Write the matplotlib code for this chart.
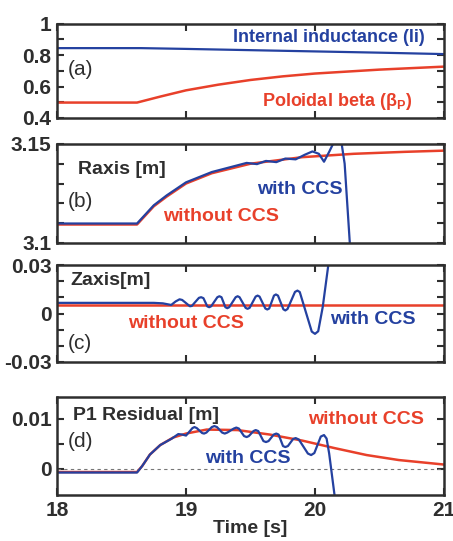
import matplotlib
matplotlib.use('Agg')
import matplotlib.pyplot as plt

# ---- data ----

# (a) internal inductance and poloidal beta
t_li = [18.0, 18.65, 19.0, 19.5, 20.0, 20.5, 21.0]
li = [0.845, 0.845, 0.840, 0.832, 0.824, 0.816, 0.807]

t_bp = [18.0, 18.62, 18.8, 19.0, 19.25, 19.5, 19.75, 20.0, 20.5, 21.0]
bp = [0.498, 0.498, 0.536, 0.576, 0.612, 0.642, 0.665, 0.683, 0.708, 0.727]

# (b) Raxis
t_r_nocc = [18.0, 18.62, 18.75, 18.85, 19.0, 19.2, 19.5, 19.9, 20.3, 20.7, 21.0]
r_nocc = [3.1093, 3.1093, 3.1185, 3.1234, 3.1300, 3.1352, 3.1400, 3.1433, 3.1450, 3.1460, 3.1466]

t_r_cc = [18.0, 18.62, 18.75, 18.85, 19.0, 19.2, 19.4, 19.47, 19.55, 19.62, 19.70, 19.77,
          19.85, 19.92, 19.98, 20.03, 20.07, 20.11, 20.14, 20.17, 20.2, 20.23, 20.26, 20.28]
r_cc = [3.1098, 3.1098, 3.1190, 3.1240, 3.1306, 3.1358, 3.1392, 3.1404, 3.1398, 3.1414, 3.1408, 3.1426,
        3.1422, 3.1445, 3.1462, 3.1450, 3.1410, 3.1460, 3.1500, 3.1540, 3.1530, 3.1400, 3.1100, 3.0900]

# (c) Zaxis
t_z_nocc = [18.0, 21.0]
z_nocc = [0.0052, 0.0052]

t_z_cc = [18.00, 18.75, 18.82, 18.885, 18.92, 18.95, 18.97, 19.03, 19.045, 19.10, 19.117, 19.135,
          19.165, 19.18, 19.195, 19.243, 19.259, 19.275, 19.305, 19.32, 19.335, 19.385, 19.40,
          19.415, 19.462, 19.477, 19.493, 19.54, 19.555, 19.57, 19.615, 19.63, 19.645, 19.682,
          19.697, 19.713, 19.755, 19.77, 19.787, 19.845, 19.864, 19.882, 19.975, 20.0, 20.025,
          20.06, 20.09, 20.12, 20.15]
z_cc = [0.0066, 0.0066, 0.0063, 0.0053, 0.0075, 0.0088, 0.0084, 0.0045, 0.0047, 0.0097, 0.0101, 0.0095,
        0.0044, 0.0039, 0.0045, 0.0101, 0.0107, 0.0101, 0.0039, 0.0033, 0.0039, 0.0101, 0.0107,
        0.0101, 0.0035, 0.0029, 0.0035, 0.0105, 0.0111, 0.0105, 0.0031, 0.0025, 0.0031, 0.0111,
        0.0118, 0.0111, 0.0026, 0.0019, 0.0028, 0.0134, 0.0142, 0.0133, -0.0112, -0.0126, -0.0110,
        0.0040, 0.0220, 0.0400, 0.0560]

# (d) P1 residual
t_p_nocc = [18.0, 18.62, 18.66, 18.72, 18.8, 18.9, 19.0, 19.16, 19.4, 19.65, 19.9,
            20.15, 20.4, 20.65, 21.0]
p_nocc = [-0.0007, -0.0007, 0.0005, 0.0028, 0.0047, 0.0062, 0.0070, 0.0078, 0.0077, 0.0068,
          0.0056, 0.0041, 0.0027, 0.0017, 0.0008]

t_p_cc = [18.0, 18.62, 18.66, 18.72, 18.8, 18.89, 18.94, 18.97, 19.0, 19.05, 19.066, 19.083,
          19.125, 19.14, 19.158, 19.20, 19.22, 19.24, 19.28, 19.30, 19.32, 19.37, 19.39, 19.41,
          19.45, 19.47, 19.487, 19.523, 19.54, 19.56, 19.60, 19.62, 19.64, 19.68, 19.70, 19.718,
          19.752, 19.77, 19.79, 19.83, 19.85, 19.875, 19.945, 19.97, 19.995, 20.045, 20.07, 20.09,
          20.11, 20.13, 20.155]
p_cc = [-0.0008, -0.0008, 0.0005, 0.0028, 0.0047, 0.0060, 0.0069, 0.0068, 0.0066, 0.0081, 0.0083, 0.0081,
        0.0071, 0.0070, 0.0072, 0.0083, 0.0085, 0.0083, 0.0072, 0.0070, 0.0072, 0.0080, 0.0082, 0.0080,
        0.0065, 0.0063, 0.0065, 0.0075, 0.0077, 0.0075, 0.0055, 0.0053, 0.0055, 0.0068, 0.0070, 0.0068,
        0.0045, 0.0043, 0.0045, 0.0059, 0.0061, 0.0058, 0.0030, 0.0027, 0.0031, 0.0064, 0.0067, 0.0060,
        0.0030, -0.0010, -0.0060]

x_ticks = [18, 19, 20, 21]

BLUE = '#2441a0'
RED = '#e8402a'
DARK = '#2e2e2e'

plt.rcParams['font.family'] = ['Liberation Sans', 'DejaVu Sans']
plt.rcParams['font.weight'] = 'bold'
plt.rcParams['mathtext.fontset'] = 'custom'
plt.rcParams['mathtext.rm'] = 'Liberation Sans:bold'
plt.rcParams['mathtext.bf'] = 'Liberation Sans:bold'
plt.rcParams['mathtext.it'] = 'Liberation Sans:bold'


def style_axis(ax, ylim, yticks, ylabels, show_x=False):
    ax.set_xlim(18, 21)
    ax.set_ylim(*ylim)
    ax.set_xticks(x_ticks)
    if show_x:
        ax.set_xticklabels([str(t) for t in x_ticks])
    else:
        ax.set_xticklabels([])
    ax.set_yticks(yticks)
    ax.set_yticklabels(ylabels)
    ax.tick_params(direction='in', length=5, width=1.5, color=DARK, labelsize=15,
                   labelcolor=DARK, top=True, right=True, pad=4)
    for s in ax.spines.values():
        s.set_linewidth(1.8)
        s.set_color(DARK)


fig = plt.figure(figsize=(4.53, 5.41), dpi=100)
left, width = 0.126, 0.854

# (a)
ax_a = fig.add_axes([left, 0.782, width, 0.174])
ax_a.plot(t_li, li, color=BLUE, lw=1.6)
ax_a.plot(t_bp, bp, color=RED, lw=1.8)
style_axis(ax_a, (0.4, 1.0), [0.4, 0.5, 0.6, 0.7, 0.8, 0.9, 1.0],
           ['0.4', '', '0.6', '', '0.8', '', '1'])
ax_a.text(0.951, 0.851, 'Internal inductance (li)', color=BLUE, fontsize=13,
          ha='right', va='center', transform=ax_a.transAxes)
ax_a.text(0.917, 0.173, 'Poloidal beta (\u03b2$_{\\mathbf{P}}$)', color=RED, fontsize=13,
          ha='right', va='center', transform=ax_a.transAxes)
ax_a.text(0.028, 0.51, '(a)', color=DARK, fontsize=15, fontweight='normal',
          ha='left', va='center', transform=ax_a.transAxes)

# (b)
ax_b = fig.add_axes([left, 0.551, width, 0.183])
ax_b.plot(t_r_nocc, r_nocc, color=RED, lw=1.8)
ax_b.plot(t_r_cc, r_cc, color=BLUE, lw=1.6)
style_axis(ax_b, (3.1, 3.15), [3.10, 3.11, 3.12, 3.13, 3.14, 3.15],
           ['3.1', '', '', '', '', '3.15'])
ax_b.text(0.054, 0.737, 'Raxis [m]', color=DARK, fontsize=14,
          ha='left', va='center', transform=ax_b.transAxes)
ax_b.text(0.028, 0.417, '(b)', color=DARK, fontsize=15, fontweight='normal',
          ha='left', va='center', transform=ax_b.transAxes)
ax_b.text(0.517, 0.535, 'with CCS', color=BLUE, fontsize=14,
          ha='left', va='center', transform=ax_b.transAxes)
ax_b.text(0.274, 0.266, 'without CCS', color=RED, fontsize=14,
          ha='left', va='center', transform=ax_b.transAxes)

# (c)
ax_c = fig.add_axes([left, 0.331, width, 0.179])
ax_c.plot(t_z_nocc, z_nocc, color=RED, lw=1.8)
ax_c.plot(t_z_cc, z_cc, color=BLUE, lw=1.6)
style_axis(ax_c, (-0.03, 0.03), [-0.03, -0.02, -0.01, 0.0, 0.01, 0.02, 0.03],
           ['-0.03', '', '', '0', '', '', '0.03'])
ax_c.text(0.034, 0.845, 'Zaxis[m]', color=DARK, fontsize=14,
          ha='left', va='center', transform=ax_c.transAxes)
ax_c.text(0.028, 0.193, '(c)', color=DARK, fontsize=15, fontweight='normal',
          ha='left', va='center', transform=ax_c.transAxes)
ax_c.text(0.183, 0.399, 'without CCS', color=RED, fontsize=14,
          ha='left', va='center', transform=ax_c.transAxes)
ax_c.text(0.705, 0.443, 'with CCS', color=BLUE, fontsize=14,
          ha='left', va='center', transform=ax_c.transAxes)

# (d)
ax_d = fig.add_axes([left, 0.085, width, 0.181])
ax_d.axhline(0, color='#777777', lw=0.8, ls=(0, (3, 3)))
ax_d.plot(t_p_nocc, p_nocc, color=RED, lw=1.8)
ax_d.plot(t_p_cc, p_cc, color=BLUE, lw=1.6)
style_axis(ax_d, (-0.0053, 0.0143), [0.0, 0.005, 0.01], ['0', '', '0.01'], show_x=True)
ax_d.text(0.041, 0.816, 'P1 Residual [m]', color=DARK, fontsize=14,
          ha='left', va='center', transform=ax_d.transAxes)
ax_d.text(0.028, 0.544, '(d)', color=DARK, fontsize=15, fontweight='normal',
          ha='left', va='center', transform=ax_d.transAxes)
ax_d.text(0.649, 0.772, 'without CCS', color=RED, fontsize=14,
          ha='left', va='center', transform=ax_d.transAxes)
ax_d.text(0.382, 0.374, 'with CCS', color=BLUE, fontsize=14,
          ha='left', va='center', transform=ax_d.transAxes)

fig.text(0.552, 0.024, 'Time [s]', color=DARK, fontsize=14, ha='center', va='center')

fig.savefig('out.png', dpi=100)
